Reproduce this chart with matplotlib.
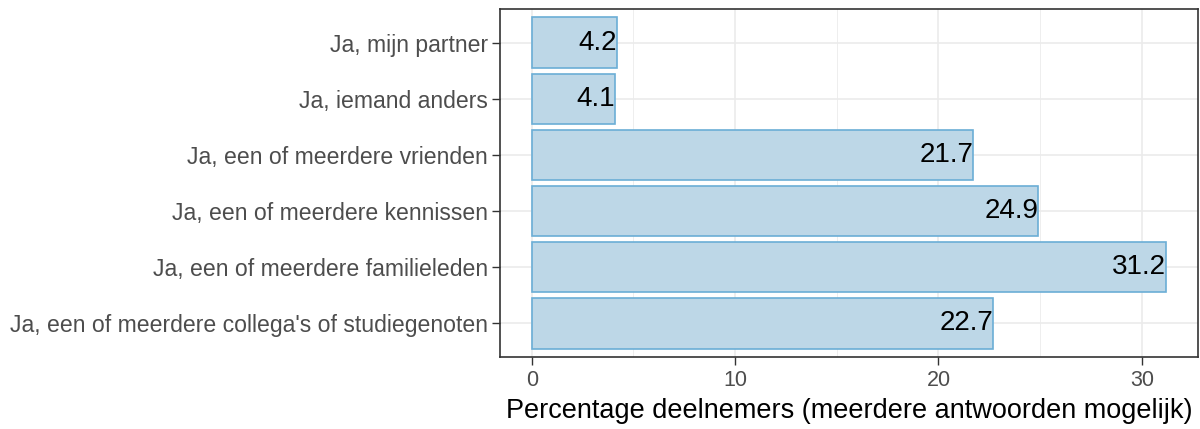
import matplotlib
import numpy as np
from matplotlib import pyplot as plt

matplotlib.use("Agg")

# Data
categories = [
    "Ja, een of meerdere collega's of studiegenoten",
    "Ja, een of meerdere familieleden",
    "Ja, een of meerdere kennissen",
    "Ja, een of meerdere vrienden",
    "Ja, iemand anders",
    "Ja, mijn partner",
]
values = [22.7, 31.2, 24.9, 21.7, 4.1, 4.2]
value_labels = ["22.7", "31.2", "24.9", "21.7", "4.1", "4.2"]
x_ticks = [0, 10, 20, 30]

plt.rcParams['font.family'] = ['Liberation Sans', 'DejaVu Sans']

fig = plt.figure(figsize=(12, 4.29), dpi=100)
ax = fig.add_axes([500 / 1200, 1 - 357 / 429, 698 / 1200, 348 / 429])

y = np.arange(1, len(categories) + 1)
ax.barh(y, values, height=0.9, color="#bdd7e7", edgecolor="#6baed6", linewidth=1.2, zorder=3)

for yi, v, lab in zip(y, values, value_labels):
    ax.text(v, yi, lab, ha="right", va="center", fontsize=20, color="black", zorder=4)

# ggplot-like expansion
xmax = max(values)
ax.set_xlim(-0.05 * xmax, xmax * 1.05)
ax.set_ylim(0.4, len(categories) + 0.6)

ax.set_yticks(y)
ax.set_yticklabels(categories, fontsize=16.6, color="#4d4d4d")
ax.set_xticks(x_ticks)
ax.set_xticklabels([str(t) for t in x_ticks], fontsize=15.5, color="#4d4d4d")
ax.set_xticks([5, 15, 25], minor=True)
ax.set_xlabel("Percentage deelnemers (meerdere antwoorden mogelijk)", fontsize=19.5, labelpad=5)

ax.grid(True, which="major", color="#ebebeb", linewidth=1.2, zorder=0)
ax.grid(True, which="minor", axis="x", color="#ebebeb", linewidth=0.6, zorder=0)
ax.tick_params(axis="both", which="major", length=5.5, color="#333333", width=1, pad=3)
ax.tick_params(axis="x", which="major", pad=4)
ax.tick_params(axis="x", which="minor", length=0)
for s in ax.spines.values():
    s.set_color("#333333")
    s.set_linewidth(1.2)

fig.savefig("out.png", dpi=100)
